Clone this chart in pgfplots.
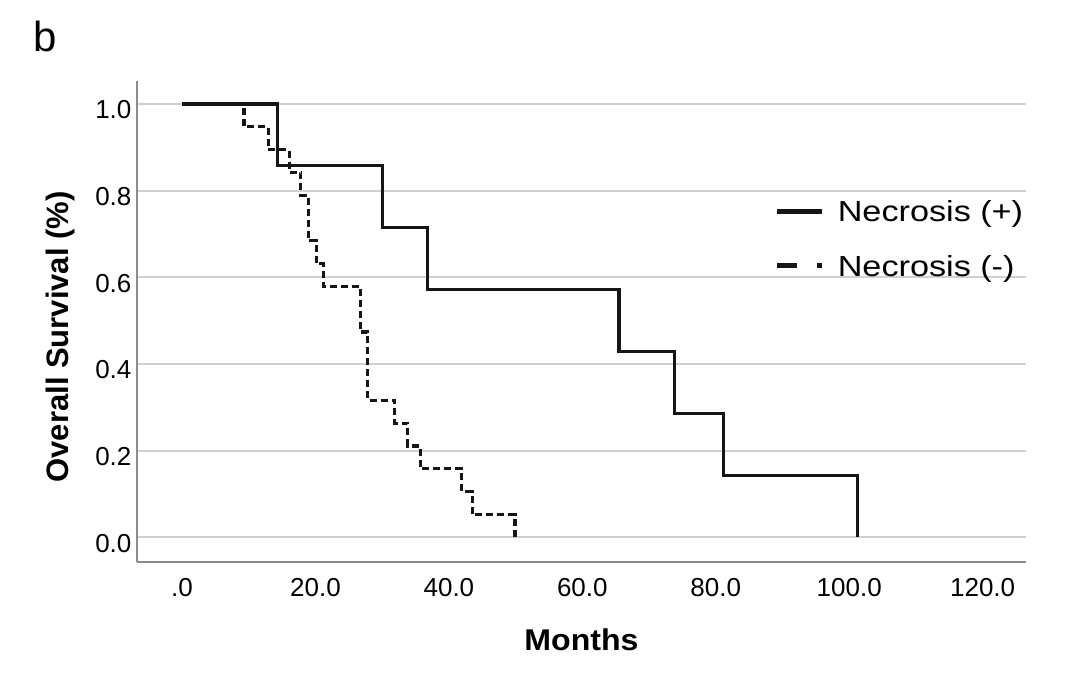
\documentclass[border=0pt]{standalone}
\usepackage{fontspec}
\setmainfont{Liberation Sans}
\newfontfamily\labfont[FakeStretch=1.07]{Liberation Sans}
\newfontfamily\legfont[FakeStretch=1.18]{Liberation Sans}
\usepackage{pgfplots}
\pgfplotsset{compat=1.18}
\definecolor{axisgray}{RGB}{140,140,140}
\definecolor{gridgray}{RGB}{208,208,208}
\definecolor{curve}{RGB}{22,22,22}
\begin{document}
\begin{tikzpicture}
\node[anchor=base west, inner sep=0pt, font=\fontsize{31.5}{31.5}\selectfont] at (24.75pt,-38.7pt) {b};
\begin{axis}[
  at={(102.75pt,-421.5pt)}, anchor=south west,
  scale only axis, width=666.75pt, height=360.75pt,
  xmin=-6.75, xmax=126.5, ymin=-0.057, ymax=1.053,
  axis x line=bottom, axis y line=left,
  axis line style={-, draw=axisgray, line width=1.8pt},
  xtick={0,20,40,60,80,100,120},
  ytick={0,0.2,0.4,0.6,0.8,1.0},
  major tick length=0pt,
  ymajorgrids,
  grid style={draw=gridgray, line width=1.5pt},
  /pgf/number format/assume math mode=true,
  xticklabel style={/pgf/number format/.cd, fixed, fixed zerofill, precision=1, skip 0., /tikz/.cd, anchor=center, inner sep=0pt, yshift=-19.1pt, font=\fontsize{19.5}{19.5}\selectfont},
  yticklabel style={/pgf/number format/.cd, fixed, fixed zerofill, precision=1, /tikz/.cd, anchor=east, inner sep=0pt, xshift=-4pt, yshift=-4.5pt, font=\fontsize{19.5}{19.5}\selectfont},
  xlabel={Months},
  ylabel={Overall Survival (\%)},
  every axis x label/.style={at={(rel axis cs:0.5,0)}, anchor=base, yshift=-66.5pt, inner sep=0pt, font=\labfont\bfseries\fontsize{22.5}{22.5}\selectfont},
  every axis y label/.style={at={(rel axis cs:0,0.468)}, rotate=90, anchor=center, yshift=57.75pt, inner sep=0pt, font=\bfseries\fontsize{23.25}{23.25}\selectfont},
  legend cell align=left,
  legend style={at={(0.717,0.7588)}, anchor=north west, draw=none, fill=none, inner sep=0pt, outer sep=0pt, row sep=19pt, column sep=0pt,
    nodes={inner sep=0pt, text height=18.5pt, text depth=3.25pt, font=\legfont\fontsize{21.75}{21.75}\selectfont}},
]
\addplot[const plot, draw=curve, line width=2.4pt,
  legend image code/.code={\draw[solid, line width=3.5pt, curve] (0pt,0pt) -- (33.75pt,0pt); \path[draw=none] (0pt,0pt) -- (45.65pt,0pt);}]
  coordinates {(0,1) (14.3,0.8571) (30.0,0.7143) (36.8,0.5714) (65.5,0.4286) (73.8,0.2857) (81.2,0.1429) (101.2,0)};
\addlegendentry{Necrosis (+)}
\addplot[const plot, draw=curve, line width=2.4pt, dash pattern=on 5.25pt off 3pt,
  legend image code/.code={\draw[solid, line width=3.75pt, curve] (0pt,0pt) -- (15pt,0pt); \draw[solid, line width=3.75pt, curve] (30pt,0pt) -- (33.75pt,0pt); \path[draw=none] (0pt,0pt) -- (45.65pt,0pt);}]
  coordinates {(0,1) (9.3,0.9474) (12.9,0.8947) (16.1,0.8421) (17.8,0.7895) (18.9,0.6842) (20.1,0.6316) (21.2,0.5789) (26.7,0.4737) (27.8,0.3158) (31.9,0.2632) (33.8,0.2105) (35.7,0.1579) (41.9,0.1053) (43.5,0.0526) (49.9,0)};
\addlegendentry{Necrosis (-)}
\end{axis}
\pgfresetboundingbox
\useasboundingbox (0pt,0pt) rectangle (801pt,-505.5pt);
\end{tikzpicture}
\end{document}
